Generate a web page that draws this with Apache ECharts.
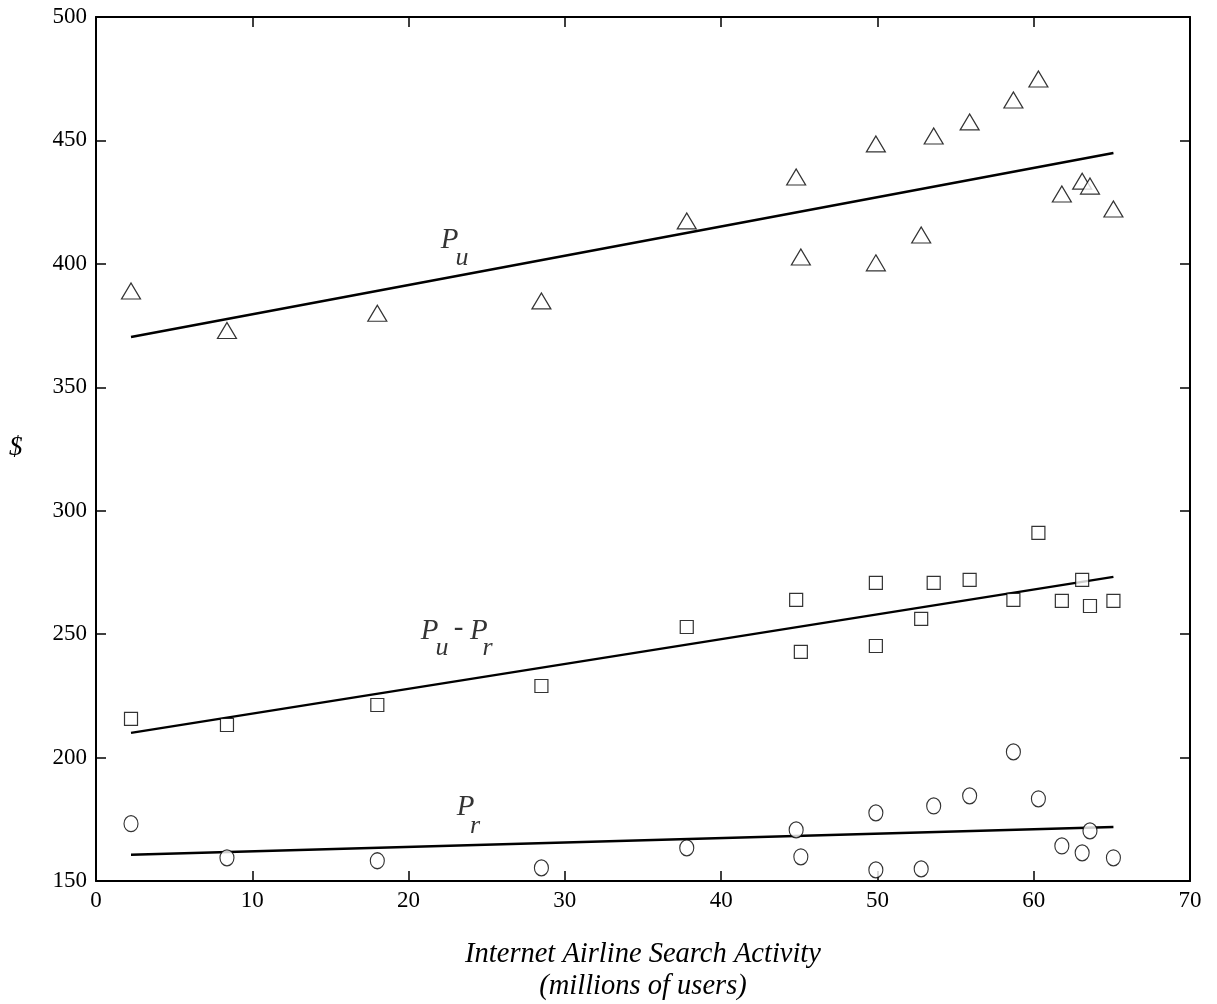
<!DOCTYPE html>
<html>
<head>
<meta charset="utf-8">
<script src="https://cdn.jsdelivr.net/npm/echarts@6/dist/echarts.min.js"></script>
<style>html,body{margin:0;padding:0;background:#fff}#c{width:1217px;height:1004px}</style>
</head>
<body>
<div id="c"></div>
<script>
// Internet search activity (millions of users)
const searchActivity = [2.24, 8.38, 18.0, 28.5, 37.8, 44.8, 45.1, 49.9, 49.9, 52.8, 53.6, 55.9, 58.7, 60.3, 61.8, 63.1, 63.6, 65.1];
// P_u (triangles)
const pU = [389, 373, 380, 385, 417.4, 435.2, 402.8, 448.6, 400.4, 411.7, 451.8, 457.5, 466.4, 474.9, 428.3, 433.5, 431.5, 422.2];
// P_u - P_r (squares)
const pDiff = [215.7, 213.2, 221.3, 229.0, 252.9, 263.9, 242.8, 270.8, 245.2, 256.2, 270.8, 272.0, 263.9, 291.0, 263.5, 272.0, 261.4, 263.5];
// P_r (circles)
const pR = [173.2, 159.4, 158.2, 155.3, 163.4, 170.7, 159.8, 177.6, 154.5, 154.9, 180.4, 184.5, 202.3, 183.3, 164.2, 161.4, 170.3, 159.4];
// fitted lines (start / end)
const fitX = [2.24, 65.1];
const fitPu = [370.4, 444.9];
const fitDiff = [210.0, 273.2];
const fitPr = [160.6, 171.9];
// axis ticks
const xMin = 0, xMax = 70, xStep = 10;
const yMin = 150, yMax = 500, yStep = 50;
// curve annotations: [text, x, y, role]
const annotations = [
  ['P', 22.62, 409.7, 'main'], ['u', 23.42, 402.4, 'sub'],
  ['P', 21.34, 251.3, 'main'], ['u', 22.14, 244.4, 'sub'], ['-', 23.2, 252.5, 'main'],
  ['P', 24.5, 251.3, 'main'], ['r', 25.05, 244.4, 'sub'],
  ['P', 23.65, 180.0, 'main'], ['r', 24.25, 172.3, 'sub']
];

const FONT = '"Liberation Serif", "DejaVu Serif", serif';
const zip = (a, b) => a.map((v, i) => [v, b[i]]);

const chart = echarts.init(document.getElementById('c'));
const axisCommon = {
  axisLine: { show: true, onZero: false, lineStyle: { color: '#000', width: 2 } },
  axisTick: { show: true, inside: true, length: 10, lineStyle: { color: '#000', width: 1.5 } },
  splitLine: { show: false }
};
const scatterStyle = { color: '#fff', borderColor: '#000', borderWidth: 1.2 };
const lineStyle = { color: '#000', width: 2.5 };

chart.setOption({
  animation: false,
  backgroundColor: '#fff',
  grid: { left: 96, right: 27, top: 17, bottom: 123, containLabel: false, outerBoundsMode: 'none' },
  xAxis: [
    Object.assign({ type: 'value', min: xMin, max: xMax, interval: xStep, position: 'bottom',
      axisLabel: { color: '#000', fontFamily: FONT, fontSize: 23, margin: 8 },
      name: 'Internet Airline Search Activity\n(millions of users)', nameLocation: 'middle', nameGap: 58,
      nameTextStyle: { color: '#000', fontFamily: FONT, fontSize: 28.5, fontStyle: 'italic', lineHeight: 32 }
    }, axisCommon),
    Object.assign({ type: 'value', min: xMin, max: xMax, interval: xStep, position: 'top',
      axisLabel: { show: false } }, axisCommon)
  ],
  yAxis: [
    Object.assign({ type: 'value', min: yMin, max: yMax, interval: yStep, position: 'left',
      axisLabel: { color: '#000', fontFamily: FONT, fontSize: 23, margin: 9 } }, axisCommon),
    Object.assign({ type: 'value', min: yMin, max: yMax, interval: yStep, position: 'right',
      axisLabel: { show: false } }, axisCommon)
  ],
  graphic: [{
    type: 'text', left: 9, top: 434,
    style: { text: '$', fill: '#000', font: 'italic 27px ' + FONT }
  }],
  series: [
    { type: 'line', data: zip(fitX, fitPu), symbol: 'none', lineStyle: lineStyle, silent: true },
    { type: 'line', data: zip(fitX, fitDiff), symbol: 'none', lineStyle: lineStyle, silent: true },
    { type: 'line', data: zip(fitX, fitPr), symbol: 'none', lineStyle: lineStyle, silent: true },
    { type: 'scatter', data: zip(searchActivity, pU), symbol: 'triangle', symbolSize: [19, 16], itemStyle: scatterStyle, z: 5 },
    { type: 'scatter', data: zip(searchActivity, pDiff), symbol: 'rect', symbolSize: 13, itemStyle: scatterStyle, z: 5 },
    { type: 'scatter', data: zip(searchActivity, pR), symbol: 'circle', symbolSize: [14, 16], itemStyle: scatterStyle, z: 5 },
    { type: 'scatter', symbolSize: 0, silent: true, z: 6,
      data: annotations.map(a => ({ value: [a[1], a[2]], name: a[0],
        label: { show: true, position: 'inside', formatter: a[0], color: '#000', fontFamily: FONT,
          fontStyle: 'italic', fontSize: a[3] === 'main' ? 29 : 26 } })) }
  ]
});
</script>
</body>
</html>
